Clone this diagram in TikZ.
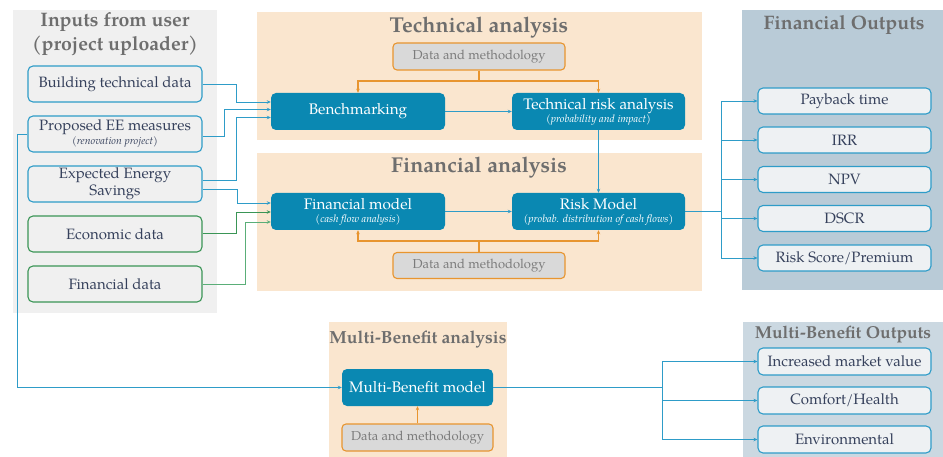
\documentclass[tikz,border=0pt]{standalone}
\usepackage{fontspec}
\setmainfont{TeX Gyre Pagella}
\usetikzlibrary{arrows.meta}
\definecolor{pgray}{HTML}{F0F0F0}
\definecolor{ppeach}{HTML}{FAE6CF}
\definecolor{pblue}{HTML}{B9CBD7}
\definecolor{pblue2}{HTML}{CBD8E1}
\definecolor{lblue}{HTML}{2E9CC8}
\definecolor{lgreen}{HTML}{3A9556}
\definecolor{lgreen2}{HTML}{5AAE78}
\definecolor{teal}{HTML}{0A88B2}
\definecolor{orng}{HTML}{E8952F}
\definecolor{dmfill}{HTML}{D9D9D9}
\definecolor{ttl}{HTML}{6E6E6E}
\definecolor{btxt}{HTML}{36415C}
\definecolor{outfill}{HTML}{EEF1F3}
\newcommand{\subt}[1]{{\itshape\fontsize{10.5}{11}\selectfont #1}}
\tikzset{
  ttlstyle/.style={text=ttl, font=\bfseries\fontsize{#1}{24}\selectfont, inner sep=0pt, align=center},
  inbox/.style={draw=lblue, line width=1.1pt, rounded corners=5pt, fill=pgray, minimum width=174pt, minimum height=36pt, inner sep=0pt, text=btxt, align=center, font=\fontsize{15}{17}\selectfont},
  ingreen/.style={inbox, draw=lgreen},
  tealbox/.style={fill=teal, rounded corners=5pt, text=white, minimum width=174pt, minimum height=37pt, inner sep=0pt, align=center, font=\fontsize{15.3}{16}\selectfont},
  dmbox/.style={fill=dmfill, draw=orng, line width=1.1pt, rounded corners=4pt, text=ttl!90, minimum width=172pt, minimum height=27pt, inner sep=0pt, font=\fontsize{13}{15}\selectfont},
  outbox/.style={fill=outfill, draw=lblue, line width=1.1pt, rounded corners=5pt, minimum width=173pt, minimum height=26pt, inner sep=0pt, text=btxt, font=\fontsize{15}{17}\selectfont},
  arr/.style={draw=lblue, line width=0.9pt, -{Stealth[length=4pt,width=3.5pt]}},
  garr/.style={arr, draw=lgreen},
  garr2/.style={arr, draw=lgreen2},
  oarr/.style={draw=orng, line width=1.1pt, -{Stealth[length=4pt,width=3.5pt]}},
  ln/.style={draw=lblue, line width=0.9pt},
}
\begin{document}
\begin{tikzpicture}[x=1pt,y=-1pt]
\useasboundingbox (0,0) rectangle (943,457);
% panels
\fill[pgray] (13,10) rectangle (217,313);
\fill[ppeach] (257,12) rectangle (702,140);
\fill[ppeach] (257,153) rectangle (702,291);
\fill[pblue] (742,10) rectangle (943,290);
\fill[ppeach] (329,322) rectangle (507,457);
\fill[pblue2] (743,322) rectangle (943,457);
% titles
\node[ttlstyle=19.5] (t1) at (115,34) {Inputs from user\\(project uploader)};
\node[ttlstyle=21.5] (t2) at (479,28) {Technical analysis};
\node[ttlstyle=21.5] (t3) at (479,168) {Financial analysis};
\node[ttlstyle=19.5] (t4) at (844,25) {Financial Outputs};
\node[ttlstyle=17.5] (t5) at (418,340) {Multi-Benefit analysis};
\node[ttlstyle=17.3] (t6) at (843,335) {Multi-Benefit Outputs};
% inputs
\node[inbox] (bt) at (115,84) {Building technical data};
\node[inbox] (pe) at (115,134) {Proposed EE measures\\[-3pt]\subt{(renovation project)}};
\node[inbox, font=\fontsize{15}{17}\selectfont] (es) at (115,184) {Expected Energy\\Savings};
\node[ingreen] (ed) at (115,234) {Economic data};
\node[ingreen] (fd) at (115,284) {Financial data};
% technical
\node[dmbox] (dm1) at (479,56.5) {Data and methodology};
\node[tealbox] (bm) at (358,111.5) {Benchmarking};
\node[tealbox, minimum width=173pt] (tra) at (598.5,111.5) {Technical risk analysis\\[-3pt]\subt{(probability and impact)}};
% financial
\node[tealbox] (fm) at (358,211.5) {Financial model\\[-3pt]\subt{(cash flow analysis)}};
\node[tealbox, minimum width=173pt] (rm) at (598.5,211.5) {Risk Model\\[-3pt]\subt{(probab. distribution of cash flows)}};
\node[dmbox, minimum height=26pt] (dm2) at (479,265.5) {Data and methodology};
% financial outputs
\node[outbox] (pb) at (844.5,101) {Payback time};
\node[outbox] (irr) at (844.5,140) {IRR};
\node[outbox] (npv) at (844.5,179.5) {NPV};
\node[outbox] (dscr) at (844.5,218.5) {DSCR};
\node[outbox] (rs) at (844.5,258) {Risk Score/Premium};
% multi-benefit
\node[tealbox, minimum width=151pt] (mbm) at (417.5,387.5) {Multi-Benefit model};
\node[dmbox, minimum width=151pt] (dm3) at (417.5,437.5) {Data and methodology};
\node[outbox, minimum height=27pt] (imv) at (844.5,361.5) {Increased market value};
\node[outbox, minimum height=27pt] (ch) at (844.5,400.5) {Comfort/Health};
\node[outbox, minimum height=27pt] (env) at (844.5,439.5) {Environmental};
% input connectors
\draw[arr] (bt.east) -| (236,102) -- ([yshift=9.5pt]bm.west);
\draw[arr] ([yshift=-2pt]pe.east) -| (224,109.5) -- ([yshift=2pt]bm.west);
\draw[arr] ([yshift=4pt]es.east) -| (236,117.5) -- ([yshift=-6pt]bm.west);
\draw[arr] ([yshift=-5pt]es.east) -| (237,203) -- ([yshift=8.5pt]fm.west);
\draw[garr] ([yshift=1pt]ed.east) -| (236,212) -- ([yshift=-0.5pt]fm.west);
\draw[garr2] (fd.east) -| (245,222) -- ([yshift=-10.5pt]fm.west);
\draw[arr] (pe.west) -| (17,387.5) -- (mbm.west);
% orange
\draw[draw=orng, line width=1.1pt] (dm1.south) -- (479,81);
\draw[oarr] (479,81) -| (bm.north);
\draw[oarr] (479,81) -| (tra.north);
\draw[draw=orng, line width=1.1pt] (dm2.north) -- (479,241);
\draw[oarr] (479,241) -| (fm.south);
\draw[oarr] (479,241) -| (rm.south);
\draw[oarr] (dm3.north) -- (mbm.south);
% analysis flow
\draw[arr] (bm.east) -- (tra.west);
\draw[arr] (fm.east) -- (rm.west);
\draw[arr] (tra.south) -- (rm.north);
% outputs
\coordinate (fo) at (721,211.5);
\draw[ln] (rm.east) -- (fo);
\foreach \n in {pb,irr,npv,dscr,rs} \draw[arr] (fo) |- (\n.west);
\coordinate (mo) at (662,387.5);
\draw[ln] (mbm.east) -- (mo);
\foreach \n in {imv,ch,env} \draw[arr] (mo) |- (\n.west);
\end{tikzpicture}
\end{document}
